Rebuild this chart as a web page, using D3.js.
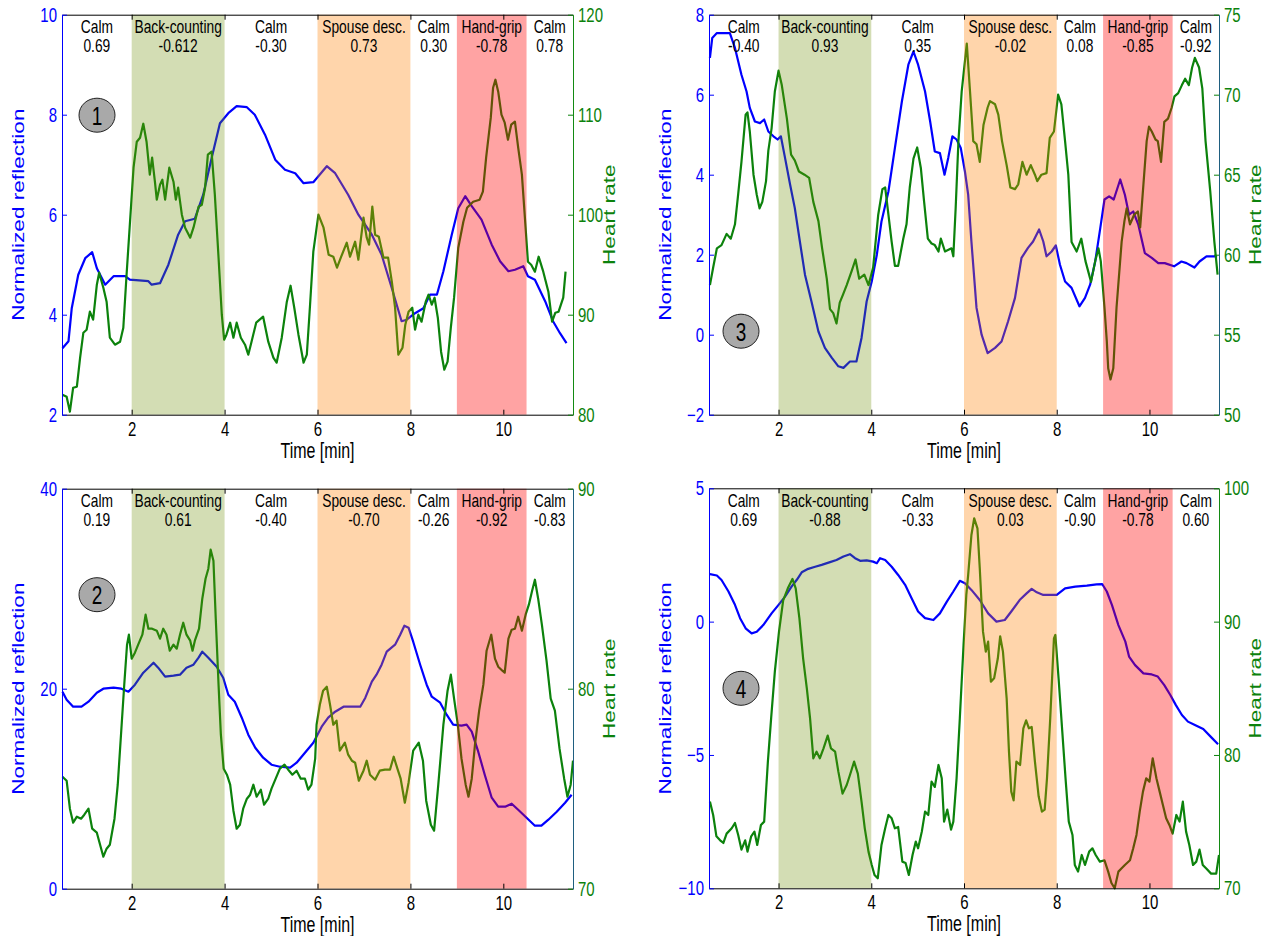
<!DOCTYPE html>
<html>
<head>
<meta charset="utf-8">
<script src="https://cdn.jsdelivr.net/npm/d3@7"></script>
<style>
  body { margin: 0; background: #fff; }
  text { font-family: "Liberation Sans", Arial, Helvetica, sans-serif; }
</style>
</head>
<body>
<svg id="chart" width="1275" height="936"></svg>
<script>
// ---- data ----
const timeDomain = [0.5, 11.5];
const timeTicks = [2, 4, 6, 8, 10];

const segmentNames = ["Calm", "Back-counting", "Calm", "Spouse desc.", "Calm", "Hand-grip", "Calm"];
const segmentEdges = [0.5, 2, 4, 6, 8, 9, 10.5, 11.5];
const stressSpans = [[2, 4], [6, 8], [9, 10.5]];

const corr1 = ["0.69", "-0.612", "-0.30", "0.73", "0.30", "-0.78", "0.78"];
const corr2 = ["0.19", "0.61", "-0.40", "-0.70", "-0.26", "-0.92", "-0.83"];
const corr3 = ["-0.40", "0.93", "0.35", "-0.02", "0.08", "-0.85", "-0.92"];
const corr4 = ["0.69", "-0.88", "-0.33", "0.03", "-0.90", "-0.78", "0.60"];

// normalized reflection, [time, value]
const reflect1 = [[0.51,3.33],[0.64,3.47],[0.71,4.13],[0.85,4.80],[1.00,5.13],[1.15,5.25],[1.25,4.93],[1.43,4.60],[1.61,4.77],[1.86,4.77],[1.96,4.70],[2.36,4.67],[2.43,4.60],[2.61,4.63],[2.79,5.00],[3.00,5.60],[3.15,5.87],[3.36,5.92],[3.54,6.40],[3.72,7.13],[3.90,7.83],[4.08,8.03],[4.26,8.17],[4.48,8.15],[4.65,8.00],[4.87,7.60],[5.09,7.10],[5.30,6.90],[5.52,6.83],[5.70,6.63],[5.91,6.65],[6.20,6.97],[6.38,6.83],[6.66,6.40],[6.88,6.00],[7.17,5.60],[7.38,5.20],[7.60,4.53],[7.81,3.87],[7.92,3.90],[8.10,4.03],[8.28,4.13],[8.42,4.40],[8.57,4.40],[8.71,4.87],[8.89,5.60],[9.03,6.13],[9.18,6.37],[9.32,6.17],[9.53,5.90],[9.75,5.40],[9.93,5.07],[10.11,4.87],[10.25,4.90],[10.43,4.97],[10.53,4.77],[10.68,4.70],[10.90,4.27],[11.07,3.87],[11.22,3.63],[11.36,3.43]];
const reflect2 = [[0.51,19.7],[0.60,18.9],[0.74,18.2],[0.92,18.2],[1.07,18.7],[1.25,19.6],[1.39,20.0],[1.61,20.1],[1.78,20.0],[1.93,19.7],[2.07,20.4],[2.25,21.6],[2.47,22.6],[2.57,22.1],[2.72,21.2],[2.90,21.3],[3.04,21.4],[3.18,22.1],[3.33,22.4],[3.44,23.1],[3.52,23.7],[3.65,23.1],[3.83,22.2],[3.97,21.1],[4.08,19.4],[4.22,18.7],[4.37,17.1],[4.51,15.4],[4.66,14.1],[4.83,13.1],[5.01,12.4],[5.19,12.2],[5.41,12.1],[5.55,12.6],[5.73,13.6],[5.91,14.6],[6.09,16.2],[6.23,17.1],[6.38,17.7],[6.56,18.2],[6.74,18.2],[6.92,18.2],[7.03,19.1],[7.17,20.7],[7.27,21.4],[7.38,22.4],[7.49,23.7],[7.67,24.4],[7.78,25.4],[7.87,26.3],[7.96,26.1],[8.06,24.7],[8.21,22.4],[8.35,20.4],[8.46,19.2],[8.64,18.6],[8.78,17.4],[8.92,16.4],[9.10,16.3],[9.21,16.4],[9.32,15.7],[9.46,13.7],[9.60,11.4],[9.75,9.1],[9.89,8.2],[10.04,8.2],[10.18,8.5],[10.32,7.9],[10.50,7.1],[10.68,6.3],[10.82,6.3],[10.97,6.9],[11.15,7.7],[11.33,8.6],[11.47,9.4]];
const reflect3 = [[0.52,6.92],[0.57,7.42],[0.67,7.54],[0.95,7.54],[1.06,7.17],[1.20,6.50],[1.31,6.08],[1.38,5.67],[1.49,5.33],[1.60,5.29],[1.69,5.38],[1.78,5.08],[1.89,4.96],[1.98,4.88],[2.05,4.96],[2.14,4.42],[2.25,3.75],[2.35,3.17],[2.46,2.33],[2.57,1.50],[2.71,0.83],[2.86,0.08],[3.00,-0.33],[3.15,-0.58],[3.29,-0.79],[3.40,-0.83],[3.54,-0.67],[3.68,-0.67],[3.79,-0.08],[3.90,0.83],[4.01,1.33],[4.12,2.00],[4.22,2.83],[4.37,3.58],[4.51,4.67],[4.66,5.83],[4.80,6.75],[4.91,7.08],[5.01,6.75],[5.16,6.08],[5.27,5.33],[5.37,4.58],[5.48,4.54],[5.58,4.00],[5.66,4.42],[5.75,4.96],[5.84,4.88],[5.93,4.67],[6.02,4.08],[6.09,3.50],[6.16,2.33],[6.27,0.67],[6.38,0.00],[6.51,-0.46],[6.67,-0.33],[6.81,-0.17],[6.95,0.33],[7.10,0.92],[7.24,1.92],[7.38,2.17],[7.49,2.33],[7.62,2.63],[7.71,2.33],[7.78,1.96],[7.89,2.08],[7.98,2.23],[8.07,1.75],[8.18,1.33],[8.32,1.17],[8.49,0.71],[8.61,0.92],[8.72,1.25],[8.83,1.83],[8.94,2.67],[9.03,3.38],[9.13,3.46],[9.23,3.38],[9.37,3.88],[9.47,3.50],[9.56,3.00],[9.65,3.08],[9.76,2.75],[9.90,2.04],[10.05,1.92],[10.19,1.79],[10.33,1.79],[10.53,1.71],[10.69,1.83],[10.80,1.79],[10.97,1.68],[11.08,1.83],[11.23,1.96],[11.46,1.96]];
const reflect4 = [[0.52,1.78],[0.67,1.73],[0.77,1.56],[0.92,1.13],[1.06,0.63],[1.17,0.13],[1.29,-0.25],[1.42,-0.44],[1.53,-0.38],[1.67,-0.13],[1.85,0.31],[2.00,0.63],[2.14,0.94],[2.28,1.31],[2.39,1.56],[2.50,1.85],[2.64,1.98],[2.79,2.06],[2.93,2.13],[3.11,2.23],[3.25,2.31],[3.40,2.44],[3.54,2.53],[3.65,2.38],[3.76,2.28],[3.90,2.30],[4.04,2.25],[4.12,2.19],[4.19,2.38],[4.30,2.31],[4.44,2.06],[4.58,1.75],[4.73,1.38],[4.87,0.88],[5.01,0.38],[5.16,0.13],[5.34,0.06],[5.48,0.31],[5.63,0.75],[5.77,1.13],[5.91,1.53],[6.02,1.44],[6.16,1.19],[6.34,0.81],[6.52,0.31],[6.70,0.00],[6.88,0.06],[7.02,0.38],[7.20,0.81],[7.35,1.06],[7.46,1.23],[7.57,1.10],[7.71,1.00],[8.00,1.00],[8.18,1.25],[8.40,1.31],[8.65,1.35],[8.86,1.40],[8.98,1.41],[9.08,1.13],[9.19,0.63],[9.33,-0.13],[9.48,-0.75],[9.56,-1.31],[9.69,-1.63],[9.87,-1.94],[10.05,-1.98],[10.18,-2.06],[10.32,-2.38],[10.45,-2.75],[10.57,-3.13],[10.70,-3.50],[10.83,-3.75],[10.98,-3.88],[11.16,-4.03],[11.34,-4.35],[11.48,-4.60]];

// heart rate, [time, bpm]
const heart1 = [[0.51,82.0],[0.60,81.8],[0.67,80.3],[0.74,82.7],[0.82,82.8],[0.89,85.7],[0.96,88.2],[1.03,88.5],[1.10,90.3],[1.17,89.5],[1.25,93.0],[1.30,94.2],[1.39,92.7],[1.46,91.3],[1.53,87.7],[1.64,87.0],[1.75,87.3],[1.82,88.7],[1.89,94.0],[1.96,99.0],[2.04,104.7],[2.11,107.3],[2.18,107.7],[2.25,109.1],[2.32,107.3],[2.39,104.0],[2.44,105.7],[2.50,103.3],[2.54,101.5],[2.61,103.0],[2.66,103.5],[2.72,101.5],[2.81,104.7],[2.90,103.3],[2.95,101.5],[3.00,102.7],[3.08,100.0],[3.15,98.7],[3.26,97.7],[3.33,98.7],[3.44,100.8],[3.51,101.0],[3.58,102.7],[3.64,106.0],[3.72,106.3],[3.79,102.0],[3.87,95.7],[3.94,90.0],[3.99,87.5],[4.04,88.0],[4.12,89.2],[4.19,87.7],[4.26,89.2],[4.35,87.7],[4.44,87.0],[4.51,86.0],[4.58,87.3],[4.68,89.2],[4.83,89.8],[4.94,87.3],[5.05,85.7],[5.12,85.2],[5.23,87.7],[5.34,91.3],[5.42,92.9],[5.50,90.7],[5.59,88.0],[5.70,85.2],[5.77,86.0],[5.84,91.0],[5.91,96.3],[6.02,100.0],[6.13,98.7],[6.24,96.0],[6.34,95.8],[6.42,94.7],[6.51,95.8],[6.63,97.2],[6.70,95.8],[6.81,97.3],[6.88,95.5],[6.99,99.7],[7.06,97.7],[7.11,97.0],[7.18,100.8],[7.24,98.0],[7.32,97.8],[7.42,95.7],[7.52,95.7],[7.60,93.3],[7.67,90.7],[7.74,86.0],[7.83,86.7],[7.89,89.0],[7.96,90.3],[8.04,90.7],[8.10,88.5],[8.17,90.0],[8.24,89.3],[8.33,91.3],[8.39,92.0],[8.46,91.0],[8.52,91.7],[8.59,89.7],[8.66,86.3],[8.73,84.5],[8.80,85.3],[8.87,88.7],[8.94,91.7],[9.03,96.7],[9.14,99.3],[9.22,100.7],[9.35,101.3],[9.49,101.5],[9.56,102.3],[9.63,105.7],[9.73,109.7],[9.78,112.7],[9.83,113.5],[9.89,112.3],[9.96,110.0],[10.03,109.2],[10.10,107.5],[10.17,109.0],[10.25,109.3],[10.32,106.7],[10.40,104.0],[10.46,100.0],[10.53,95.3],[10.60,95.0],[10.68,94.3],[10.76,95.8],[10.86,94.3],[10.97,92.3],[11.05,89.3],[11.12,90.2],[11.19,90.3],[11.29,91.7],[11.34,94.3]];
const heart2 = [[0.51,75.6],[0.60,75.4],[0.67,74.0],[0.74,73.3],[0.82,73.6],[0.91,73.5],[0.98,73.7],[1.07,74.0],[1.15,73.0],[1.25,72.8],[1.32,72.2],[1.39,71.6],[1.46,72.0],[1.53,72.2],[1.63,73.5],[1.70,75.2],[1.77,77.7],[1.84,80.2],[1.90,82.2],[1.94,82.7],[2.00,81.5],[2.07,81.8],[2.14,82.2],[2.23,82.7],[2.30,83.7],[2.36,83.0],[2.44,83.0],[2.54,82.9],[2.61,82.5],[2.68,83.0],[2.75,82.7],[2.82,81.9],[2.90,82.2],[2.97,82.0],[3.04,82.7],[3.11,83.3],[3.18,82.7],[3.26,82.4],[3.31,81.9],[3.36,82.4],[3.45,83.0],[3.52,84.5],[3.59,85.5],[3.65,86.0],[3.70,86.95],[3.76,86.4],[3.81,83.5],[3.87,80.2],[3.92,77.7],[3.98,76.0],[4.05,75.7],[4.12,75.2],[4.19,73.9],[4.26,73.0],[4.33,73.2],[4.40,74.0],[4.48,74.5],[4.55,74.7],[4.62,75.2],[4.69,74.6],[4.78,74.95],[4.85,74.2],[4.94,74.5],[5.01,75.0],[5.10,75.5],[5.19,76.0],[5.29,76.2],[5.37,75.95],[5.46,75.7],[5.55,75.9],[5.64,75.5],[5.73,75.5],[5.80,74.95],[5.87,75.2],[5.95,76.5],[5.98,78.2],[6.05,79.2],[6.12,79.9],[6.20,80.1],[6.27,79.2],[6.34,78.2],[6.41,78.4],[6.48,76.9],[6.59,77.3],[6.66,76.7],[6.74,76.4],[6.81,76.3],[6.89,75.4],[6.99,75.9],[7.06,76.4],[7.13,75.7],[7.24,75.45],[7.34,75.9],[7.45,75.95],[7.56,75.95],[7.64,76.6],[7.72,76.0],[7.79,75.5],[7.88,74.3],[7.96,75.3],[8.06,76.9],[8.18,77.3],[8.27,76.4],[8.34,74.4],[8.44,73.2],[8.51,72.9],[8.60,75.2],[8.71,78.2],[8.80,79.9],[8.87,80.7],[8.94,79.5],[9.02,78.2],[9.10,76.5],[9.19,75.2],[9.25,74.6],[9.32,75.5],[9.39,77.2],[9.48,78.9],[9.57,80.2],[9.64,81.9],[9.74,82.7],[9.82,81.5],[9.89,81.1],[9.98,80.9],[10.03,80.8],[10.11,82.5],[10.18,82.95],[10.25,83.0],[10.32,83.6],[10.40,82.9],[10.48,83.7],[10.55,84.2],[10.62,84.9],[10.68,85.45],[10.75,84.5],[10.83,83.2],[10.93,81.4],[11.02,79.5],[11.11,78.9],[11.21,77.0],[11.31,75.5],[11.38,74.6],[11.45,75.2],[11.50,76.4]];
const heart3 = [[0.52,58.1],[0.59,59.2],[0.67,60.4],[0.77,60.6],[0.88,61.3],[0.97,61.0],[1.06,61.9],[1.13,63.8],[1.20,65.8],[1.29,68.75],[1.33,68.9],[1.38,67.7],[1.46,65.0],[1.53,63.75],[1.59,62.9],[1.65,63.3],[1.73,64.6],[1.78,66.5],[1.85,67.9],[1.92,70.2],[2.00,71.5],[2.07,70.6],[2.18,68.5],[2.27,66.25],[2.35,65.9],[2.44,65.2],[2.56,65.0],[2.66,64.8],[2.75,63.3],[2.86,62.1],[2.94,60.4],[3.04,58.5],[3.11,56.6],[3.18,56.35],[3.25,55.7],[3.32,57.0],[3.39,57.5],[3.47,58.1],[3.58,59.0],[3.66,59.7],[3.74,58.5],[3.85,58.75],[3.94,58.1],[4.04,59.2],[4.15,62.5],[4.24,64.1],[4.30,64.2],[4.37,62.5],[4.44,60.8],[4.51,59.3],[4.58,59.3],[4.69,61.0],[4.76,61.9],[4.83,64.2],[4.91,66.0],[4.99,66.7],[5.07,65.4],[5.14,63.3],[5.22,61.0],[5.30,60.7],[5.37,60.6],[5.45,60.2],[5.50,61.0],[5.59,60.2],[5.73,60.4],[5.77,59.9],[5.82,62.9],[5.88,67.1],[5.95,70.2],[6.02,72.1],[6.06,73.2],[6.13,70.2],[6.20,67.1],[6.27,66.9],[6.34,65.8],[6.42,68.1],[6.51,69.2],[6.56,69.6],[6.67,69.4],[6.74,68.75],[6.82,67.1],[6.92,65.6],[7.00,64.2],[7.10,64.1],[7.17,64.4],[7.26,65.8],[7.35,65.0],[7.44,65.6],[7.53,65.0],[7.58,64.6],[7.67,65.0],[7.78,65.1],[7.85,67.3],[7.94,67.7],[8.03,70.0],[8.10,69.4],[8.18,67.1],[8.25,65.0],[8.32,60.8],[8.43,60.2],[8.53,61.0],[8.62,59.6],[8.74,58.3],[8.83,59.6],[8.90,60.4],[8.95,59.6],[9.03,56.7],[9.08,54.6],[9.11,52.9],[9.16,52.2],[9.22,52.9],[9.29,56.7],[9.40,60.8],[9.46,62.1],[9.51,62.9],[9.58,61.9],[9.67,62.5],[9.75,62.7],[9.80,61.7],[9.87,64.4],[9.94,67.1],[9.99,68.0],[10.05,67.7],[10.13,67.2],[10.18,67.1],[10.25,65.8],[10.32,68.3],[10.40,68.5],[10.48,69.2],[10.54,69.9],[10.62,70.1],[10.70,70.6],[10.77,71.0],[10.85,70.6],[10.92,71.7],[10.98,72.3],[11.07,71.7],[11.14,70.4],[11.21,67.1],[11.31,64.0],[11.40,60.8],[11.47,58.75]];
const heart4 = [[0.52,76.5],[0.59,75.5],[0.66,73.9],[0.74,73.6],[0.81,73.4],[0.88,74.1],[0.99,74.5],[1.06,74.9],[1.13,74.0],[1.20,72.9],[1.28,73.6],[1.33,72.75],[1.41,73.9],[1.48,74.25],[1.54,73.25],[1.62,74.75],[1.69,75.0],[1.77,79.5],[1.84,82.75],[1.92,86.25],[2.01,89.25],[2.10,91.6],[2.20,92.5],[2.30,93.2],[2.37,92.5],[2.45,90.25],[2.53,87.25],[2.61,85.0],[2.68,82.75],[2.75,79.75],[2.82,80.25],[2.89,79.75],[2.97,80.5],[3.06,81.45],[3.13,80.5],[3.22,80.25],[3.29,78.75],[3.38,77.1],[3.47,77.75],[3.54,78.5],[3.63,79.5],[3.71,78.6],[3.79,76.5],[3.86,74.5],[3.94,72.75],[4.01,71.75],[4.07,71.0],[4.14,70.75],[4.22,73.25],[4.30,74.5],[4.37,75.5],[4.44,75.25],[4.51,74.5],[4.58,74.6],[4.67,72.0],[4.74,71.9],[4.81,71.0],[4.89,72.5],[4.96,73.5],[5.01,73.0],[5.09,74.25],[5.16,75.75],[5.23,75.5],[5.30,78.0],[5.37,77.6],[5.45,79.25],[5.52,78.25],[5.57,75.0],[5.64,75.9],[5.72,74.4],[5.77,75.0],[5.84,78.25],[5.91,82.75],[5.99,88.25],[6.05,92.0],[6.09,93.5],[6.16,96.5],[6.22,97.75],[6.29,97.0],[6.34,94.0],[6.41,89.25],[6.47,87.75],[6.52,88.5],[6.58,85.5],[6.65,85.75],[6.73,87.25],[6.78,88.9],[6.84,87.75],[6.92,84.25],[6.97,80.25],[7.02,77.25],[7.07,76.6],[7.13,79.5],[7.21,79.25],[7.28,82.0],[7.34,82.6],[7.40,82.0],[7.46,82.1],[7.53,79.5],[7.61,76.9],[7.68,75.75],[7.74,75.9],[7.79,78.25],[7.86,82.75],[7.94,88.75],[7.97,89.0],[8.04,85.75],[8.12,81.75],[8.19,78.25],[8.26,75.0],[8.34,74.0],[8.39,71.75],[8.46,71.25],[8.54,72.5],[8.61,71.75],[8.70,72.75],[8.77,73.0],[8.84,72.5],[8.93,72.0],[9.03,72.1],[9.11,71.25],[9.18,70.4],[9.25,70.0],[9.33,71.25],[9.40,71.5],[9.47,71.75],[9.58,72.1],[9.65,73.0],[9.72,74.0],[9.79,75.75],[9.86,77.25],[9.93,78.25],[10.00,78.0],[10.07,79.75],[10.15,78.25],[10.22,77.25],[10.29,76.25],[10.36,75.25],[10.43,74.75],[10.50,74.1],[10.58,75.5],[10.65,75.0],[10.72,76.5],[10.79,74.25],[10.86,73.25],[10.94,71.75],[11.01,72.0],[11.08,72.9],[11.15,71.75],[11.22,71.5],[11.33,71.1],[11.44,71.1],[11.50,72.5]];

// ---- panel table (layout + per-panel scales) ----
const panels = [
  { id: "1", x: 62,  y: 14.7,  w: 511, h: 400, reflect: reflect1, heart: heart1, corr: corr1,
    left: [2, 10],   leftTicks: [2, 4, 6, 8, 10],    right: [80, 120], rightTicks: [80, 90, 100, 110, 120],
    rightLine: "#138a13", badge: [35, 100.5] },
  { id: "3", x: 709, y: 14.7,  w: 510, h: 400, reflect: reflect3, heart: heart3, corr: corr3,
    left: [-2, 8],   leftTicks: [-2, 0, 2, 4, 6, 8], right: [50, 75],  rightTicks: [50, 55, 60, 65, 70, 75],
    rightLine: "#1f5f80", badge: [32, 316.5] },
  { id: "2", x: 62,  y: 488.7, w: 511, h: 400, reflect: reflect2, heart: heart2, corr: corr2,
    left: [0, 40],   leftTicks: [0, 20, 40],         right: [70, 90],  rightTicks: [70, 80, 90],
    rightLine: "#1f5f80", badge: [35, 106] },
  { id: "4", x: 709, y: 488.3, w: 510, h: 400, reflect: reflect4, heart: heart4, corr: corr4,
    left: [-10, 5],  leftTicks: [-10, -5, 0, 5],     right: [70, 100], rightTicks: [70, 80, 90, 100],
    rightLine: "#138a13", badge: [32, 200] }
];

const blue = "#0000ff";
const green = "#0c820c";
const spanFill = ["rgb(108,142,8)", "rgb(255,128,0)", "rgb(255,0,0)"];
const spanAlpha = [0.3, 0.33, 0.36];
const stretch = "scale(1,1.33)";

const svg = d3.select("#chart");

function label(g, x, y, str, size, color, rotate) {
  g.append("text")
    .attr("transform", `translate(${x},${y}) ${stretch}` + (rotate ? " rotate(-90)" : ""))
    .attr("text-anchor", "middle")
    .attr("dominant-baseline", "central")
    .style("font-size", size + "px")
    .attr("fill", color)
    .text(str);
}

panels.forEach(p => {
  const g = svg.append("g").attr("transform", `translate(${p.x},${p.y})`);
  const x = d3.scaleLinear().domain(timeDomain).range([0, p.w]);
  const yL = d3.scaleLinear().domain(p.left).range([p.h, 0]);
  const yR = d3.scaleLinear().domain(p.right).range([p.h, 0]);

  // traces
  g.append("path").datum(p.reflect)
    .attr("d", d3.line().x(d => x(d[0])).y(d => yL(d[1])))
    .attr("fill", "none").attr("stroke", blue).attr("stroke-width", 2.2)
    .attr("stroke-linejoin", "round");
  g.append("path").datum(p.heart)
    .attr("d", d3.line().x(d => x(d[0])).y(d => yR(d[1])))
    .attr("fill", "none").attr("stroke", green).attr("stroke-width", 2.2)
    .attr("stroke-linejoin", "round");

  // translucent task bands lie over the traces
  g.selectAll("rect.band").data(stressSpans).join("rect")
    .attr("class", "band")
    .attr("x", d => x(d[0])).attr("width", d => x(d[1]) - x(d[0]))
    .attr("y", 0).attr("height", p.h)
    .attr("fill", (d, i) => spanFill[i])
    .attr("fill-opacity", (d, i) => spanAlpha[i]);

  // axes, ticks point inward
  const bottom = g.append("g").attr("transform", `translate(0,${p.h})`)
    .call(d3.axisBottom(x).tickValues(timeTicks).tickSize(-5).tickSizeOuter(0).tickPadding(5));
  bottom.select(".domain").attr("stroke", "#000");
  bottom.selectAll(".tick line").attr("stroke", "#000");
  bottom.selectAll(".tick text").attr("fill", "#000").style("font-size", "15px")
    .attr("font-family", null).attr("transform", stretch);

  const top = g.append("g")
    .call(d3.axisTop(x).tickValues(timeTicks).tickSize(-5).tickSizeOuter(0).tickFormat(() => ""));
  top.select(".domain").attr("stroke", "#000");
  top.selectAll(".tick line").attr("stroke", "#000");

  const left = g.append("g")
    .call(d3.axisLeft(yL).tickValues(p.leftTicks).tickSize(-5).tickSizeOuter(0).tickPadding(5));
  left.select(".domain").attr("stroke", blue);
  left.selectAll(".tick line").attr("stroke", blue);
  left.selectAll(".tick text").attr("fill", blue).style("font-size", "15px")
    .attr("font-family", null).attr("transform", stretch);

  const right = g.append("g").attr("transform", `translate(${p.w},0)`)
    .call(d3.axisRight(yR).tickValues(p.rightTicks).tickSize(-5).tickSizeOuter(0).tickPadding(5));
  right.select(".domain").attr("stroke", p.rightLine);
  right.selectAll(".tick line").attr("stroke", green);
  right.selectAll(".tick text").attr("fill", green).style("font-size", "15px")
    .attr("font-family", null).attr("transform", stretch);

  // axis titles
  label(g, -44, p.h / 2, "Normalized reflection", 17, blue, true);
  label(g, p.w + 36, p.h / 2, "Heart rate", 17, green, true);
  label(g, p.w / 2, p.h + 35.5, "Time [min]", 16, "#000", false);

  // task names and correlations
  segmentNames.forEach((name, i) => {
    const cx = x((segmentEdges[i] + segmentEdges[i + 1]) / 2);
    label(g, cx, 12, name, 13.8, "#000", false);
    label(g, cx, 31, p.corr[i], 13.8, "#000", false);
  });

  // subject badge
  g.append("ellipse").attr("cx", p.badge[0]).attr("cy", p.badge[1])
    .attr("rx", 18).attr("ry", 17)
    .attr("fill", "#a9a9a9").attr("stroke", "#222").attr("stroke-width", 1);
  label(g, p.badge[0], p.badge[1] + 1, p.id, 19, "#000", false);
});
</script>
</body>
</html>
